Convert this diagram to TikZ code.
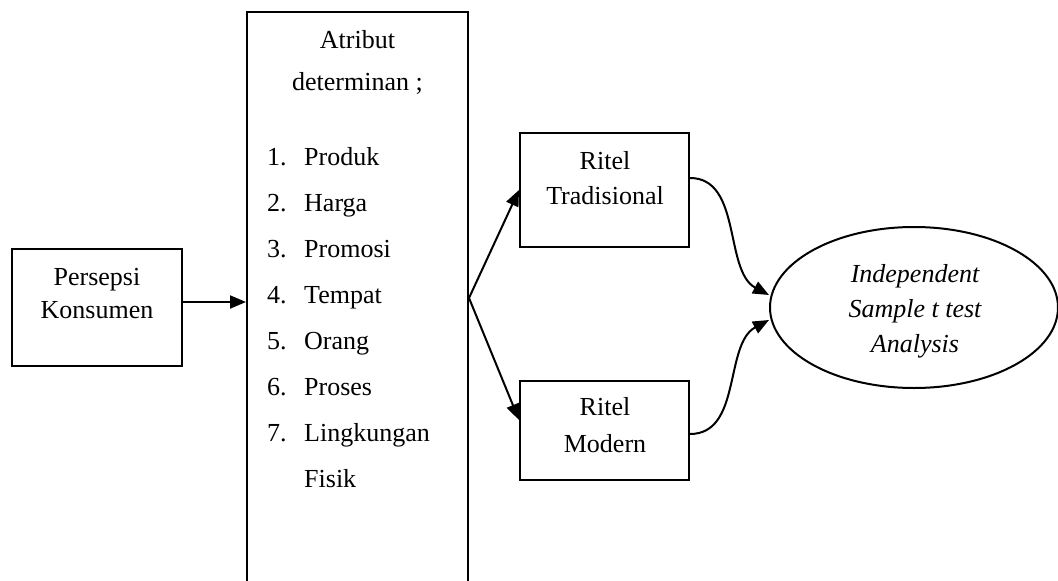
\documentclass[tikz,border=0pt]{standalone}
\usepackage{fontspec}
\setmainfont{Liberation Serif}
\usetikzlibrary{arrows.meta,shapes.geometric}
\begin{document}
\begin{tikzpicture}[x=1pt,y=-1pt,
  boxshape/.style={draw, line width=2pt, inner sep=0pt, rectangle},
  ellshape/.style={draw, line width=2pt, inner sep=0pt, ellipse},
  txt/.style={anchor=base, inner sep=0pt, font=\fontsize{26}{30}\selectfont},
  ltxt/.style={anchor=base west, inner sep=0pt, font=\fontsize{26}{30}\selectfont},
  itxt/.style={anchor=base, inner sep=0pt, font=\fontsize{26}{30}\selectfont\itshape},
  arr/.style={line width=2pt, -{Triangle[length=16pt,width=13pt]}}
]
\useasboundingbox (0,0) rectangle (1058,581);
\fill[white] (0,0) rectangle (1058,581);

% boxes
\node[boxshape, minimum width=170pt, minimum height=117pt] (pk) at (97,307.5) {};
\node[boxshape, minimum width=221pt, minimum height=588pt] (atb) at (357.5,306) {};
\node[boxshape, minimum width=169pt, minimum height=114pt] (rt) at (604.5,190) {};
\node[boxshape, minimum width=169pt, minimum height=99pt] (rm) at (604.5,430.5) {};
\node[ellshape, minimum width=288pt, minimum height=161pt] (an) at (914,307.5) {};

% texts
\node[txt] (t1) at (97,285) {Persepsi};
\node[txt] (t2) at (97,318) {Konsumen};

\node[txt] (t3) at (357.5,48) {Atribut};
\node[txt] (t4) at (357.5,90) {determinan ;};

\node[ltxt] (n1) at (267,165) {1.};
\node[ltxt] (l1) at (304,165) {Produk};
\node[ltxt] (n2) at (267,211) {2.};
\node[ltxt] (l2) at (304,211) {Harga};
\node[ltxt] (n3) at (267,257) {3.};
\node[ltxt] (l3) at (304,257) {Promosi};
\node[ltxt] (n4) at (267,303) {4.};
\node[ltxt] (l4) at (304,303) {Tempat};
\node[ltxt] (n5) at (267,349) {5.};
\node[ltxt] (l5) at (304,349) {Orang};
\node[ltxt] (n6) at (267,395) {6.};
\node[ltxt] (l6) at (304,395) {Proses};
\node[ltxt] (n7) at (267,441) {7.};
\node[ltxt] (l7) at (304,441) {Lingkungan};
\node[ltxt] (l8) at (304,487) {Fisik};

\node[txt] (t5) at (605,169) {Ritel};
\node[txt] (t6) at (605,204) {Tradisional};
\node[txt] (t7) at (605,415) {Ritel};
\node[txt] (t8) at (605,452) {Modern};

\node[itxt] (e1) at (915,282) {Independent};
\node[itxt] (e2) at (915,317) {Sample t test};
\node[itxt] (e3) at (915,352) {Analysis};

% connectors
\draw[arr] ([yshift=5.5pt]pk.east) -- ([yshift=5.5pt]pk.east -| atb.west);
\coordinate (fork) at ([yshift=8pt]atb.east);
\draw[arr] (fork) -- (rt.west);
\draw[arr] (fork) -- ([yshift=10.5pt]rm.west);
\draw[arr] ([yshift=12pt]rt.east) .. controls +(52,0) and +(-45,-24) .. ([yshift=12.5pt]an.west);
\draw[arr] ([yshift=-3.5pt]rm.east) .. controls +(52,0) and +(-45,24) .. ([yshift=-12.5pt]an.west);
\end{tikzpicture}
\end{document}
